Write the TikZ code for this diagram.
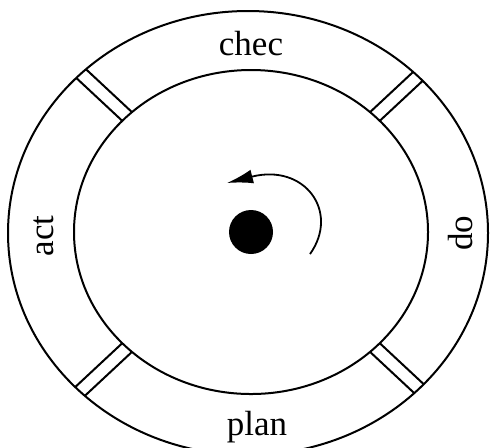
\documentclass[tikz,border=0pt]{standalone}
\usepackage{fontspec}
\setmainfont{Liberation Serif}
\usetikzlibrary{arrows.meta}

\tikzset{
    ring/.style={line width=1pt},
    label/.style={inner sep=0pt, font=\fontsize{17.5}{20}\selectfont},
    divider/.style={line width=1pt},
}

\begin{document}
\begin{tikzpicture}[x=0.5pt, y=-0.5pt]

    \useasboundingbox (0,0) rectangle (490,447);
    \coordinate (mid) at (251,232);

    % dividers between the four quarters
    \begin{scope}[even odd rule]
        \clip (248,233) ellipse [x radius=240, y radius=222]
            (mid) ellipse [x radius=177, y radius=162];
        \foreach \a in {43, 137, 223, 317} {
            \draw[divider] ([shift={(\a+90:6.5)}]mid) -- ++(\a:320);
            \draw[divider] ([shift={(\a-90:6.5)}]mid) -- ++(\a:320);
        }
    \end{scope}

    % rings
    \draw[ring] (248,233) ellipse [x radius=240, y radius=222];
    \draw[ring] (mid) ellipse [x radius=177, y radius=162];

    % hub and turning arrow
    \node[circle, fill=black, minimum size=22pt, inner sep=0] (hub) at (mid) {};
    \coordinate (turnStart) at (310,254);
    \coordinate (turnEnd) at (227,183);
    \draw[line width=0.9pt, -{Latex[length=13pt, width=7pt]}]
        (turnStart) .. controls (340,212) and (305,163) .. (turnEnd);

    % quarter labels
    \node[label, anchor=base] (chec) at (251,55) {chec};
    \node[label, anchor=base, rotate=90] (do) at (472,233) {do};
    \node[label, anchor=base] (plan) at (257,435) {plan};
    \node[label, anchor=base, rotate=90] (act) at (53,236) {act};

\end{tikzpicture}
\end{document}
